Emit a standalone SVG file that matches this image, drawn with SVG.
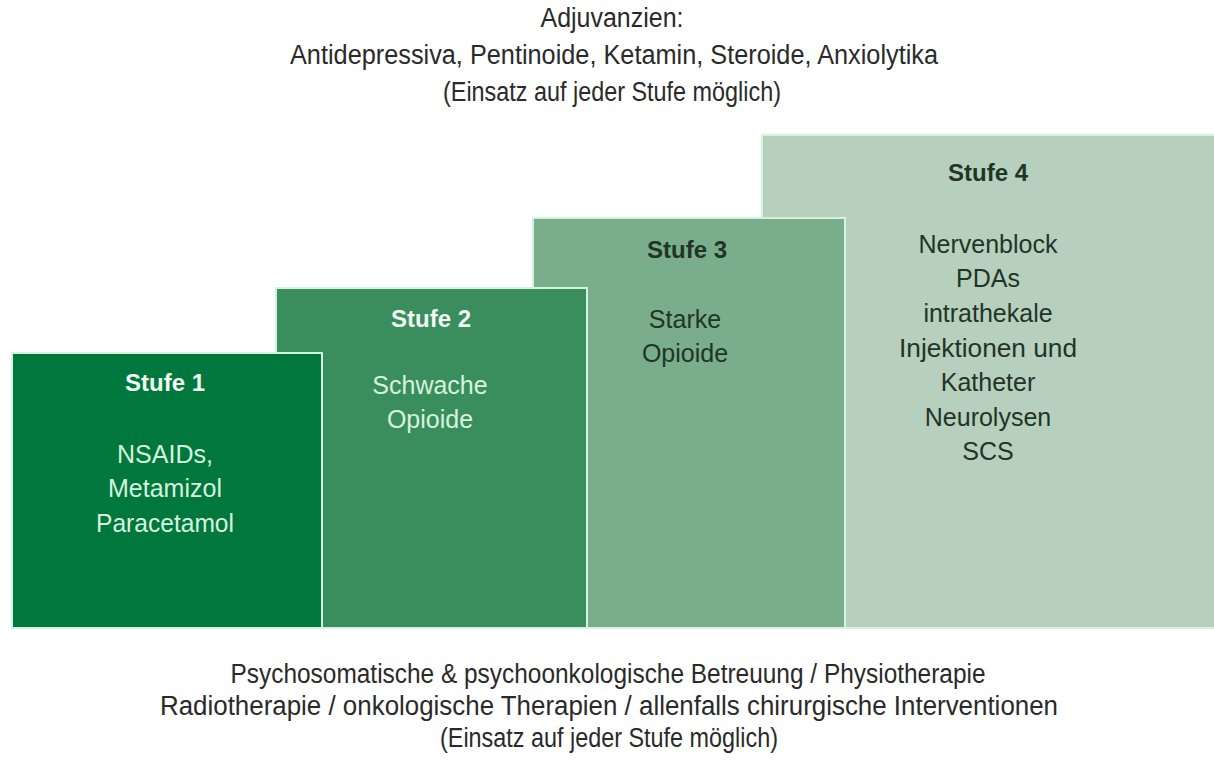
<svg xmlns="http://www.w3.org/2000/svg" width="1214" height="765" viewBox="0 0 1214 765">
<style>
.t{font-family:"Liberation Sans",Arial,sans-serif;font-size:27px;text-anchor:middle;fill:#2a2a2a}
.b{font-family:"Liberation Sans",Arial,sans-serif;font-size:24px;font-weight:bold;text-anchor:middle}
.n{font-family:"Liberation Sans",Arial,sans-serif;font-size:25px;text-anchor:middle}
.light{fill:#d6f3de}
.lightb{fill:#f2fbf4}
.dark{fill:#1f3526}
.box{stroke:#d4f3df;stroke-width:2}
</style>
<rect width="1214" height="765" fill="#ffffff"/>
<g id="top-text">
<text class="t" x="612" y="27" textLength="143" lengthAdjust="spacingAndGlyphs">Adjuvanzien:</text>
<text class="t" x="614" y="64" textLength="648" lengthAdjust="spacingAndGlyphs">Antidepressiva, Pentinoide, Ketamin, Steroide, Anxiolytika</text>
<text class="t" x="612" y="101" textLength="338" lengthAdjust="spacingAndGlyphs">(Einsatz auf jeder Stufe möglich)</text>
</g>
<g id="stufe4">
<rect class="box" x="762" y="135" width="453" height="493" fill="#b7cfbd"/>
<text class="b dark" x="988" y="181">Stufe 4</text>
<text class="n dark" x="988" y="253">Nervenblock</text>
<text class="n dark" x="988" y="287">PDAs</text>
<text class="n dark" x="988" y="322">intrathekale</text>
<text class="n dark" x="988" y="357" textLength="178" lengthAdjust="spacingAndGlyphs">Injektionen und</text>
<text class="n dark" x="988" y="391">Katheter</text>
<text class="n dark" x="988" y="426">Neurolysen</text>
<text class="n dark" x="988" y="460">SCS</text>
</g>
<g id="stufe3">
<rect class="box" x="533" y="218" width="312" height="410" fill="#7aad8b"/>
<text class="b dark" x="687" y="258">Stufe 3</text>
<text class="n dark" x="685" y="328">Starke</text>
<text class="n dark" x="685" y="362">Opioide</text>
</g>
<g id="stufe2">
<rect class="box" x="276" y="288" width="311" height="340" fill="#3a8e5d"/>
<text class="b lightb" x="431" y="327">Stufe 2</text>
<text class="n light" x="430" y="394">Schwache</text>
<text class="n light" x="430" y="428">Opioide</text>
</g>
<g id="stufe1">
<rect class="box" x="12" y="353" width="310" height="275" fill="#00773c"/>
<text class="b lightb" x="165" y="391">Stufe 1</text>
<text class="n light" x="165" y="463">NSAIDs,</text>
<text class="n light" x="165" y="497">Metamizol</text>
<text class="n light" x="165" y="532" textLength="138" lengthAdjust="spacingAndGlyphs">Paracetamol</text>
</g>
<g id="bottom-text">
<text class="t" x="608" y="683" textLength="755" lengthAdjust="spacingAndGlyphs">Psychosomatische &amp; psychoonkologische Betreuung / Physiotherapie</text>
<text class="t" x="609" y="715" textLength="898" lengthAdjust="spacingAndGlyphs">Radiotherapie / onkologische Therapien / allenfalls chirurgische Interventionen</text>
<text class="t" x="609" y="747" textLength="338" lengthAdjust="spacingAndGlyphs">(Einsatz auf jeder Stufe möglich)</text>
</g>
<g id="connectors"/>
</svg>
